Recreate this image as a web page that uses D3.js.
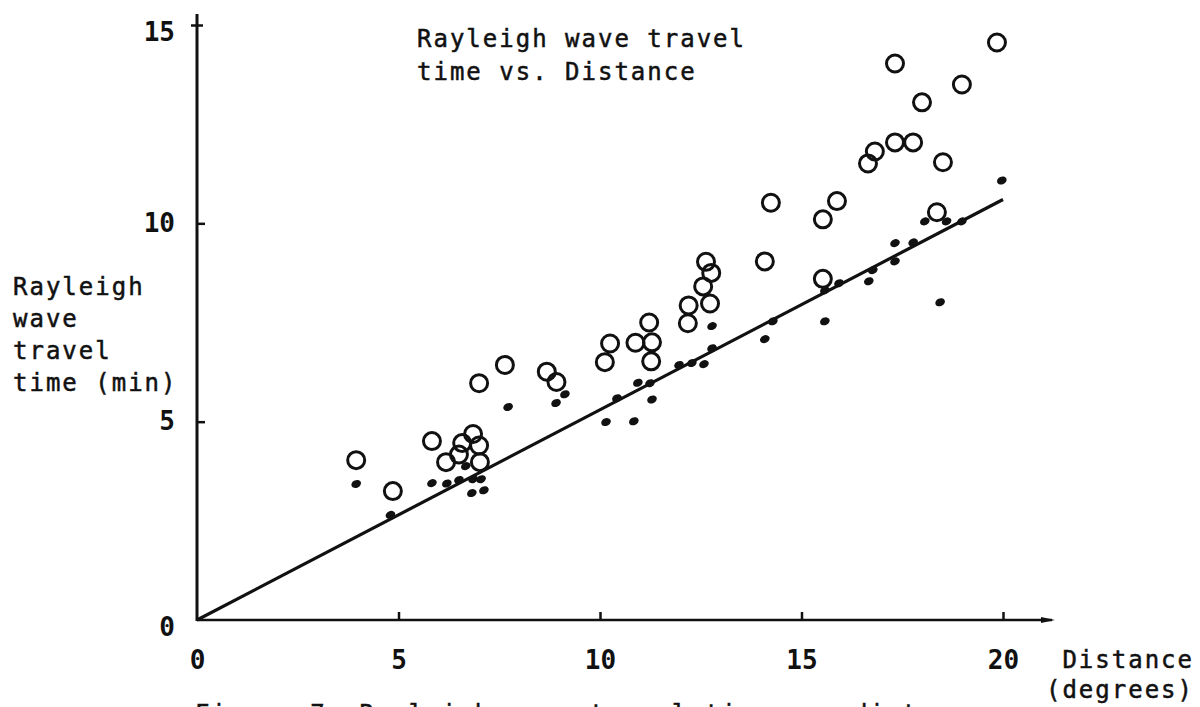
<!DOCTYPE html>
<html>
<head>
<meta charset="utf-8">
<script src="https://cdn.jsdelivr.net/npm/d3@7"></script>
<style>
  body { margin: 0; background: #fff; }
  svg { display: block; }
  text { font-family: "DejaVu Sans Mono", "Liberation Mono", monospace; fill: #111; }
  .label { stroke: #111; stroke-width: 0.5px; }
</style>
</head>
<body>
<div class="chart"></div>
<script>
var width = 1200,
    height = 707;

// x ticks and y ticks as printed
var x_ticks = [0, 5, 10, 15, 20],
    y_ticks = [0, 5, 10, 15];

// open circles (upper scatter), [distance deg, time min]
var open_dist = [3.95, 4.86, 5.83, 6.18, 6.5, 6.58, 6.85, 7.0, 7.02, 7.0, 7.64, 8.68, 8.92, 10.12, 10.25,
                 10.88, 11.22, 11.29, 11.27, 12.18, 12.2, 12.56, 12.63, 12.76, 12.73, 14.09, 14.24, 15.53,
                 15.53, 15.88, 16.65, 16.82, 17.32, 17.77, 17.32, 17.99, 18.36, 18.51, 18.98, 19.85];
var open_time = [4.03, 3.25, 4.51, 3.98, 4.17, 4.46, 4.69, 4.4, 3.98, 5.97, 6.43, 6.26, 6.0, 6.5, 6.97,
                 6.99, 7.5, 7.0, 6.52, 7.48, 7.93, 8.41, 9.03, 8.75, 7.98, 9.04, 10.52, 8.6,
                 10.1, 10.56, 11.51, 11.81, 12.04, 12.04, 14.03, 13.05, 10.28, 11.54, 13.5, 14.56];

// filled dots (lower scatter)
var dot_dist = [3.95, 4.8, 5.83, 6.2, 6.5, 6.67, 6.85, 7.05, 6.82, 7.12, 7.72, 8.91, 9.13, 10.42, 10.15,
                10.84, 10.94, 11.24, 11.29, 11.96, 12.28, 12.58, 12.78, 12.78, 14.09, 14.29, 15.58, 15.58,
                15.93, 16.67, 16.77, 17.32, 17.32, 17.77, 18.06, 18.6, 18.98, 18.44, 19.97];
var dot_time = [3.43, 2.65, 3.45, 3.44, 3.53, 3.88, 3.55, 3.55, 3.2, 3.27, 5.37, 5.47, 5.69, 5.59, 4.99,
                5.01, 5.98, 5.97, 5.56, 6.43, 6.48, 6.45, 6.85, 7.41, 7.08, 7.53, 7.53, 8.31,
                8.49, 8.54, 8.82, 9.04, 9.5, 9.52, 10.05, 10.05, 10.05, 8.01, 11.08];

// straight line drawn through the dots
var fit_dist = [0, 20],
    fit_time = [0, 10.6];

var title_lines = ["Rayleigh wave travel", "time vs. Distance"];
var y_title_lines = ["Rayleigh", "wave", "travel", "time (min)"];
var x_title_lines = ["Distance", "(degrees)"];
var caption = "Figure 7. Rayleigh wave travel time vs. distance";

var svg = d3.select(".chart").append("svg")
    .attr("width", width)
    .attr("height", height);

var x = d3.scaleLinear().domain([0, 20]).range([197, 1003]),
    y = d3.scaleLinear().domain([0, 15]).range([620, 25]);

// axes: inner ticks, domain replaced by longer lines
var x_axis = svg.append("g")
    .attr("transform", "translate(0," + y(0) + ")")
    .call(d3.axisBottom(x).tickValues(x_ticks).tickSize(-8).tickPadding(31).tickFormat(d3.format("d")));

var y_axis = svg.append("g")
    .attr("transform", "translate(" + x(0) + ",0)")
    .call(d3.axisLeft(y).tickValues(y_ticks).tickSize(-8).tickPadding(22).tickFormat(d3.format("d")));

[x_axis, y_axis].forEach(function(g) {
    g.select(".domain").remove();
    g.selectAll(".tick line").attr("stroke", "#111").attr("stroke-width", 2.5);
    g.selectAll(".tick text")
        .attr("fill", "#111")
        .style("font-size", "26px")
        .style("font-weight", "bold");
});
y_axis.selectAll(".tick").filter(function(d) { return d === 0; }).select("line").remove();
y_axis.selectAll(".tick").filter(function(d) { return d === 0 || d === 15; }).select("text")
    .attr("dy", "0.6em");
y_axis.selectAll(".tick").filter(function(d) { return d === 15; }).select("line")
    .attr("x1", -6).attr("x2", 6);
x_axis.selectAll(".tick").filter(function(d) { return d === 0; }).select("line").remove();

svg.append("line")
    .attr("x1", x(0)).attr("y1", y(0))
    .attr("x2", x(20) + 49).attr("y2", y(0))
    .attr("stroke", "#111").attr("stroke-width", 2.5);
svg.append("path")
    .attr("d", "M" + (x(20) + 38) + "," + (y(0) - 3) + "L" + (x(20) + 52) + "," + y(0) + "L" + (x(20) + 38) + "," + (y(0) + 3) + "Z")
    .attr("fill", "#111");
svg.append("line")
    .attr("x1", x(0)).attr("y1", y(0) + 1)
    .attr("x2", x(0)).attr("y2", y(15) - 11)
    .attr("stroke", "#111").attr("stroke-width", 3);

// fitted line
svg.append("path")
    .datum(d3.zip(fit_dist, fit_time))
    .attr("d", d3.line().x(function(d) { return x(d[0]); }).y(function(d) { return y(d[1]); }))
    .attr("fill", "none")
    .attr("stroke", "#111")
    .attr("stroke-width", 3.2);

// filled dots
svg.append("g").selectAll("ellipse")
    .data(d3.zip(dot_dist, dot_time))
    .join("ellipse")
    .attr("cx", function(d) { return x(d[0]); })
    .attr("cy", function(d) { return y(d[1]); })
    .attr("rx", 5)
    .attr("ry", 3.8)
    .attr("transform", function(d) { return "rotate(-25," + x(d[0]) + "," + y(d[1]) + ")"; })
    .attr("fill", "#111");

// open circles
svg.append("g").selectAll("circle")
    .data(d3.zip(open_dist, open_time))
    .join("circle")
    .attr("cx", function(d) { return x(d[0]); })
    .attr("cy", function(d) { return y(d[1]); })
    .attr("r", 8.5)
    .attr("fill", "none")
    .attr("stroke", "#111")
    .attr("stroke-width", 3);

// title inside the plot
svg.append("text")
    .attr("class", "label")
    .attr("x", 417).attr("y", 47)
    .style("font-size", "24px")
    .style("letter-spacing", "2px")
    .selectAll("tspan")
    .data(title_lines)
    .join("tspan")
    .attr("x", 417)
    .attr("dy", function(d, i) { return i ? 33 : 0; })
    .text(function(d) { return d; });

// y axis title
svg.append("text")
    .attr("class", "label")
    .attr("x", 13).attr("y", 295)
    .style("font-size", "24px")
    .style("letter-spacing", "2px")
    .selectAll("tspan")
    .data(y_title_lines)
    .join("tspan")
    .attr("x", 13)
    .attr("dy", function(d, i) { return i ? 32 : 0; })
    .text(function(d) { return d; });

// x axis title
svg.append("text")
    .attr("class", "label")
    .attr("text-anchor", "end")
    .attr("y", 668)
    .style("font-size", "24px")
    .style("letter-spacing", "2px")
    .selectAll("tspan")
    .data(x_title_lines)
    .join("tspan")
    .attr("x", 1194)
    .attr("dy", function(d, i) { return i ? 30 : 0; })
    .text(function(d) { return d; });

// caption, mostly below the page edge
svg.append("text")
    .attr("class", "label")
    .attr("x", 195).attr("y", 722)
    .style("font-size", "24px")
    .style("letter-spacing", "2px")
    .text(caption);
</script>
</body>
</html>
